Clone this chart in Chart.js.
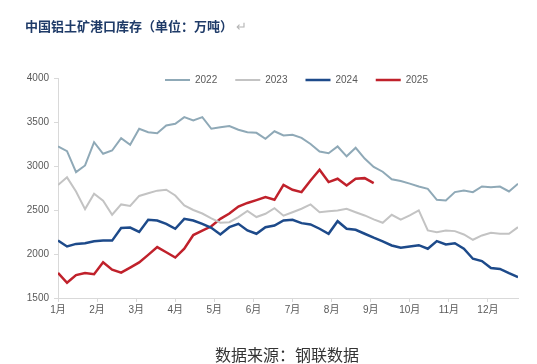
<!DOCTYPE html>
<html>
<head>
<meta charset="utf-8">
<script src="https://cdn.jsdelivr.net/npm/chart.js@4.4.1/dist/chart.umd.min.js"></script>
<style>
html, body { margin: 0; padding: 0; background: #ffffff; }
#wrap { position: relative; width: 537px; height: 364px; overflow: hidden; }
#chart { position: absolute; left: 0; top: 0; }
#title { position: absolute; left: 25px; top: 16px; line-height: 18px; font: bold 13px "Noto Sans CJK SC"; color: #1f3b68; white-space: nowrap; }
#title span { color: #b5b5b5; font-weight: normal; margin-left: 3px; }
#source { position: absolute; left: 215px; top: 342px; line-height: 20px; font: 16px "Noto Sans CJK SC"; color: #333333; white-space: nowrap; }
</style>
</head>
<body>
<div id="wrap">
  <canvas id="chart" width="537" height="364"></canvas>
  <div id="title">中国铝土矿港口库存（单位：万吨）<span>↵</span></div>
  <div id="source">数据来源：钢联数据</div>
</div>
<script>
const months = ["1月", "2月", "3月", "4月", "5月", "6月", "7月", "8月", "9月", "10月", "11月", "12月"];
const yTicks = [1500, 2000, 2500, 3000, 3500, 4000];

// weekly stock, one value per week
const s2022 = [3222, 3169, 2930, 3006, 3271, 3139, 3176, 3316, 3241, 3423,
    3384, 3373, 3460, 3479, 3555, 3517, 3555, 3423, 3441, 3455,
    3412, 3384, 3377, 3309, 3395, 3347, 3355, 3320, 3250, 3165,
    3145, 3222, 3110, 3207, 3085, 2990, 2935, 2850, 2830, 2800,
    2767, 2741, 2616, 2608, 2703, 2722, 2703, 2767, 2759, 2767,
    2711, 2798];
const s2023 = [2783, 2871, 2711, 2510, 2684, 2605, 2446, 2563, 2545, 2660,
    2690, 2720, 2730, 2665, 2551, 2500, 2460, 2405, 2355, 2362,
    2420, 2490, 2420, 2457, 2520, 2435, 2475, 2514, 2563, 2475,
    2487, 2495, 2514, 2475, 2438, 2393, 2355, 2446, 2390, 2438,
    2495, 2268, 2248, 2268, 2260, 2222, 2162, 2211, 2241, 2230,
    2230, 2305];
const s2024 = [2152, 2086, 2115, 2122, 2145, 2152, 2152, 2295, 2300, 2251,
    2389, 2380, 2342, 2287, 2400, 2381, 2343, 2298, 2222, 2305,
    2343, 2268, 2230, 2305, 2324, 2381, 2389, 2351, 2336, 2287,
    2230, 2373, 2287, 2275, 2230, 2185, 2143, 2097, 2071, 2086,
    2100, 2060, 2146, 2109, 2123, 2060, 1946, 1919, 1840, 1830,
    1782, 1737];
const s2025 = [1785, 1673, 1760, 1785, 1770, 1905, 1821, 1788, 1845, 1905,
    1990, 2078, 2020, 1960, 2060, 2215, 2265, 2315, 2400, 2460,
    2540, 2580, 2612, 2646, 2616, 2785, 2730, 2703, 2836, 2957,
    2817, 2855, 2779, 2855, 2862, 2805];

const tickFont = { family: "'Liberation Sans', 'Noto Sans CJK SC', sans-serif", size: 10 };
const axisColor = "#d9d9d9";

function toPoints(arr){
    return arr.map(function(v, i){ return { x: i, y: v }; });
}

function makeSet(name, arr, color, width){
    return {
        label: name,
        data: toPoints(arr),
        borderColor: color,
        backgroundColor: color,
        borderWidth: width,
        pointRadius: 0,
        pointHoverRadius: 0,
        tension: 0,
        fill: false
    };
}

// legend sits inside the plot, over the top edge
const legendMove = {
    id: "legendMove",
    afterLayout(chart){
        const lg = chart.legend;
        const pad = lg.options.labels.padding;
        const dy = 80 - 5 - pad - lg.top;
        lg.top += dy;
        lg.bottom += dy;
        const start = (lg.left + pad + lg.right - lg.lineWidths[0]) / 2;
        const dx = 165 - start;
        lg.left += dx;
        lg.right += dx;
    }
};

const data = {
    datasets: [
        makeSet("2022", s2022, "#8fa9b7", 2),
        makeSet("2023", s2023, "#c3c3c3", 2),
        makeSet("2024", s2024, "#1d4a8a", 2.5),
        makeSet("2025", s2025, "#c0212b", 2.5)
    ]
};

const config = {
    type: "line",
    data: data,
    options: {
        responsive: false,
        animation: false,
        devicePixelRatio: 1,
        layout: { padding: { left: 8, right: 19, top: 40, bottom: 46 } },
        plugins: {
            tooltip: { enabled: false },
            legend: {
                position: "top",
                labels: {
                    usePointStyle: true,
                    pointStyle: "line",
                    pointStyleWidth: 25,
                    padding: 18,
                    color: "#595959",
                    font: tickFont
                }
            }
        },
        scales: {
            x: {
                type: "linear",
                min: 0,
                max: s2022.length - 1,
                afterBuildTicks: function(scale){
                    scale.ticks = months.map(function(m, i){ return { value: i * 52 / 12 }; });
                },
                afterFit: function(scale){ scale.height = 20; },
                ticks: {
                    color: "#595959",
                    font: tickFont,
                    padding: 2,
                    maxRotation: 0,
                    autoSkip: false,
                    callback: function(v, i){ return months[i]; }
                },
                grid: { drawOnChartArea: false, tickLength: 4, color: axisColor },
                border: { color: axisColor }
            },
            y: {
                min: 1500,
                max: 4000,
                afterBuildTicks: function(scale){
                    scale.ticks = yTicks.map(function(v){ return { value: v }; });
                },
                afterFit: function(scale){ scale.width = 50; },
                ticks: {
                    color: "#595959",
                    font: tickFont,
                    padding: 5,
                    callback: function(v){ return String(v); }
                },
                grid: { drawOnChartArea: false, tickLength: 4, color: axisColor },
                border: { color: axisColor }
            }
        }
    },
    plugins: [legendMove]
};

new Chart(document.getElementById("chart"), config);
</script>
</body>
</html>
